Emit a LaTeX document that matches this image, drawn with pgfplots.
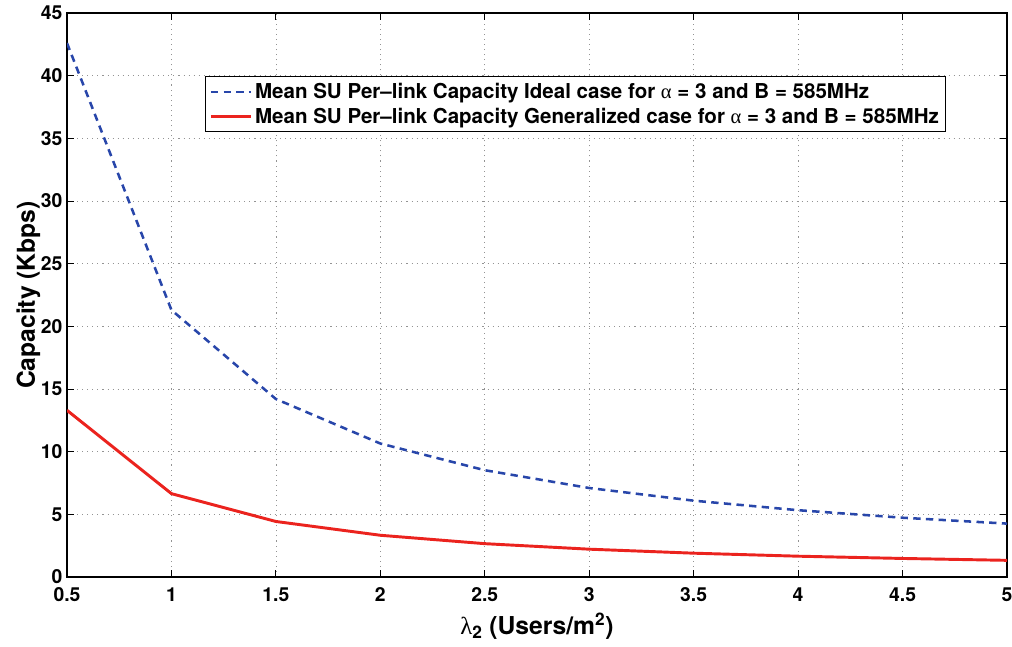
\documentclass[border=0pt]{standalone}
\usepackage{amsmath}
\usepackage{pgfplots}
\pgfplotsset{compat=1.18}
\usepackage{fontspec}
\setmainfont{TeX Gyre Heros}
\newfontfamily\grk{Liberation Serif}
\definecolor{myblue}{RGB}{40,70,170}
\definecolor{myred}{RGB}{235,35,30}
\begin{document}
\begin{tikzpicture}
\useasboundingbox (-50.25pt,-51.75pt) rectangle (708.75pt,432.75pt);
\begin{axis}[
  width=705pt, height=423pt, scale only axis,
  at={(0,0)}, anchor=south west,
  xmin=0.5, xmax=5, ymin=0, ymax=45,
  xtick={0.5,1,...,5}, ytick={0,5,...,45},
  xticklabels={0.5,1,1.5,2,2.5,3,3.5,4,4.5,5},
  /pgf/number format/assume math mode=true,
  tick label style={font=\bfseries\fontsize{14.5}{14.5}\selectfont},
  xticklabel style={yshift=-4.5pt},
  tick align=inside,
  major tick length=5pt,
  tick style={line width=0.6pt, black},
  grid=major,
  major grid style={dash pattern=on 0.8pt off 3pt, gray!85, line width=0.55pt},
  axis line style={line width=0.8pt},
  xlabel={{\grk λ}$_{\mathbf{2}}$ \textbf{(Users/m$^{\mathbf{2}}$)}},
  ylabel={\textbf{Capacity (Kbps)}},
  xlabel style={font=\fontsize{18.5}{18.5}\selectfont, at={(axis description cs:0.5,0)}, anchor=center, yshift=-37pt},
  ylabel style={font=\fontsize{18.5}{18.5}\selectfont, at={(axis description cs:-0.0411,0.5)}, anchor=center},
  legend style={at={(0.1468,0.888)}, anchor=north west, font=\bfseries\fontsize{15.4}{17.5}\selectfont, draw=black, line width=0.8pt, inner xsep=3pt, inner ysep=3pt, row sep=1.5pt},
  legend cell align=left,
  legend image code/.code={\draw[#1] (0pt,0pt) -- (30pt,0pt);},
]
\addplot[myblue, line width=1.9pt, dash pattern=on 5.5pt off 4pt] coordinates {
(0.5,42.6) (1,21.3) (1.5,14.2) (2,10.65) (2.5,8.52) (3,7.1) (3.5,6.09) (4,5.33) (4.5,4.73) (5,4.26)};
\addlegendentry{Mean SU Per--link Capacity Ideal case for {\mdseries\grk α} = 3 and B = 585MHz}
\addplot[myred, line width=2.2pt] coordinates {
(0.5,13.3) (1,6.65) (1.5,4.43) (2,3.33) (2.5,2.66) (3,2.22) (3.5,1.9) (4,1.66) (4.5,1.48) (5,1.33)};
\addlegendentry{Mean SU Per--link Capacity Generalized case for {\mdseries\grk α} = 3 and B = 585MHz}
\end{axis}
\end{tikzpicture}
\end{document}
